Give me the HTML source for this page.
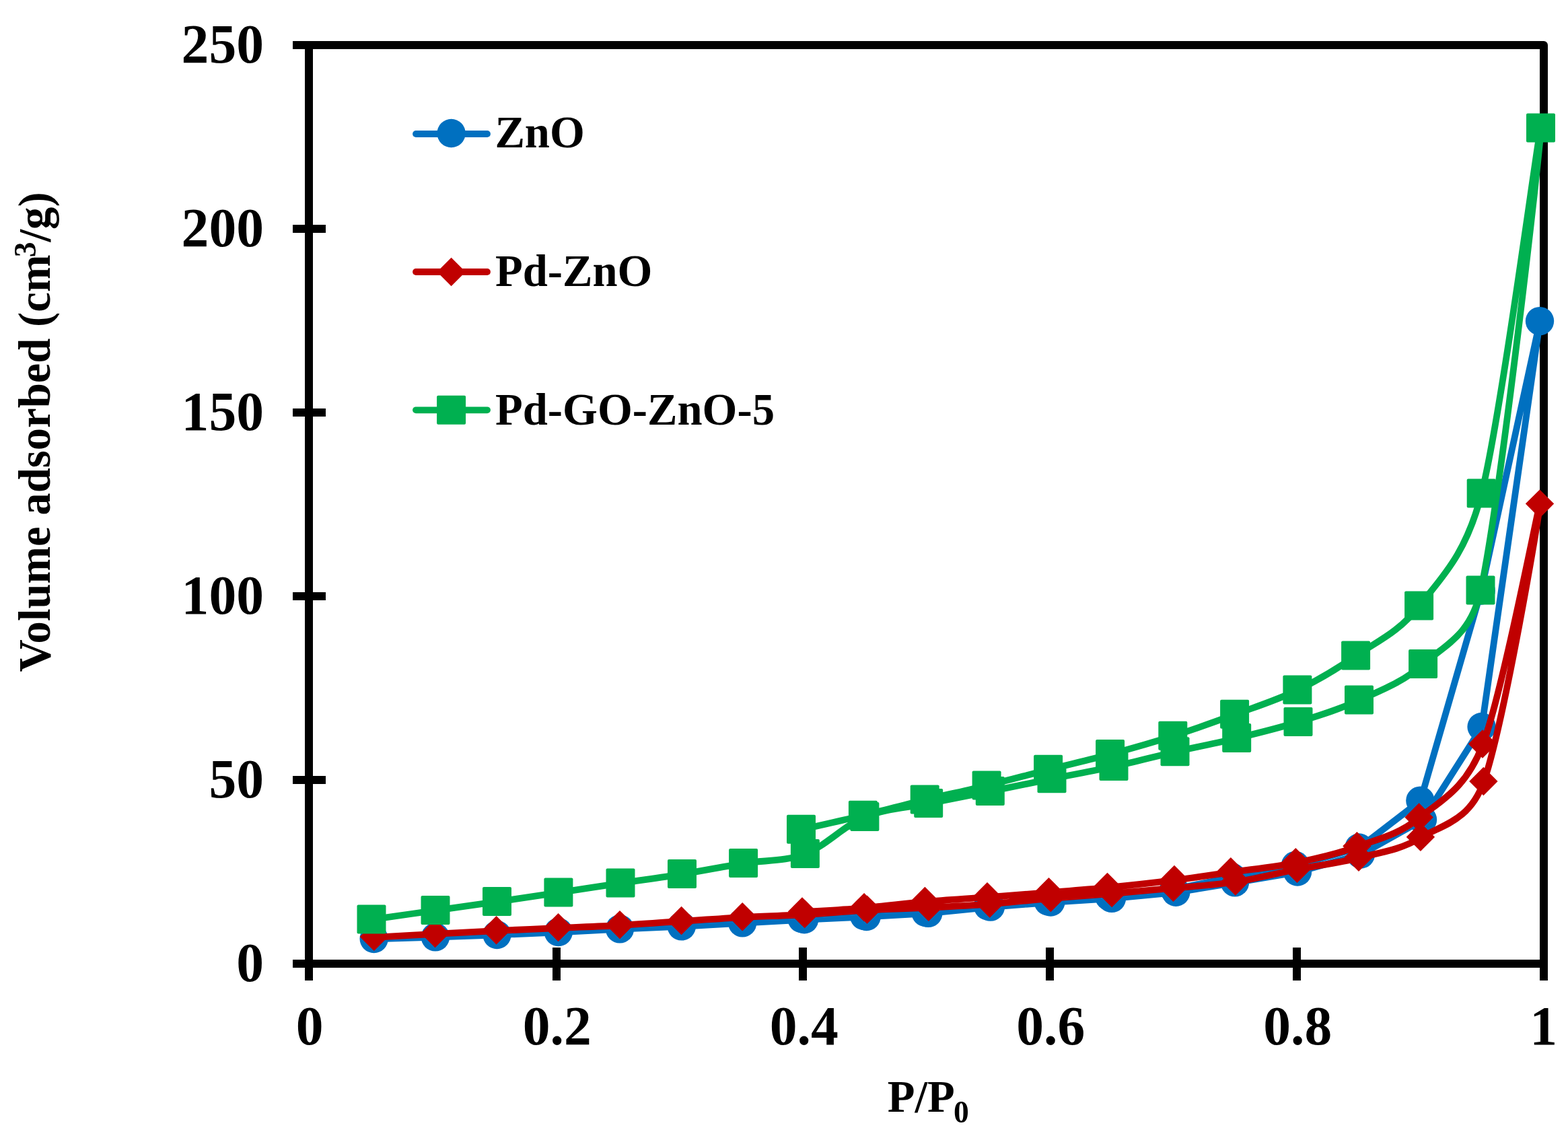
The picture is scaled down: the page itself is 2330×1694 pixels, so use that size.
<!DOCTYPE html>
<html lang="en">
<head>
<meta charset="utf-8">
<title>N2 adsorption-desorption isotherms</title>
<style>
html,body{margin:0;padding:0;background:#fff;}
body{width:2330px;height:1694px;overflow:hidden;}
svg{display:block;}
text{font-kerning:normal;white-space:pre;}
</style>
</head>
<body>
<svg width="2330" height="1694" viewBox="0 0 2330 1694" role="img" aria-label="Nitrogen adsorption-desorption isotherms of ZnO, Pd-ZnO and Pd-GO-ZnO-5" font-family='"Liberation Serif", "Times New Roman", Times, serif' font-weight="700" fill="#000">
<rect width="2330" height="1694" fill="#fff"/>
<g stroke="#000" stroke-width="12" fill="none">
<rect x="459" y="67" width="1835" height="1365" stroke-linejoin="round"/>
<path d="M459 61V1457"/>
<path d="M435 1432H2300"/>
<path d="M435 1432H484M435 1159H484M435 886H484M435 613H484M435 340H484M435 67H484M459 1408V1457M827 1408V1457M1193 1408V1457M1560 1408V1457M1927 1408V1457M2294 1408V1457"/>
</g>
<g class="ytick" font-size="81.6" text-anchor="end">
<text x="392" y="1458">0</text>
<text x="392" y="1185">50</text>
<text x="392" y="912">100</text>
<text x="392" y="639">150</text>
<text x="392" y="366">200</text>
<text x="392" y="93">250</text>
</g>
<g class="xtick" font-size="81.6" text-anchor="middle">
<text x="460.2" y="1551.8">0</text>
<text x="827.8" y="1551.8">0.2</text>
<text x="1194.8" y="1551.8">0.4</text>
<text x="1561.3" y="1551.8">0.6</text>
<text x="1928.2" y="1551.8">0.8</text>
<text x="2293.6" y="1551.8">1</text>
</g>
<text class="xtitle" x="1318.8" y="1651.9" font-size="66.7">P/P<tspan font-size="45.6" dy="15.6" dx="-1.8">0</tspan></text>
<text class="ytitle" transform="translate(73.8 998.5) rotate(-90)" font-size="66.7">Volume adsorbed (cm<tspan font-size="45.6" dy="-21" dx="-3.7">3</tspan><tspan dy="21">/g)</tspan></text>
<g class="series" fill="#0070C0" stroke="none">
<path d="M556 1395.3L647.2 1392.7L738.8 1389.3L830.1 1385.3L921.3 1380.6L1013.1 1376.7L1103.5 1371.6L1195.5 1366.5L1288 1362.3L1379.6 1357.2L1472.2 1347.9L1561.6 1340.8L1652.3 1335.2L1747.6 1326L1835.3 1311.6L1928.3 1295.8L2022.3 1269.8L2114.3 1218.3L2201.9 1080.3L2288.3 477.4L2201 877.8L2110.7 1190L2019.8 1259.8L1925.2 1286.2L1830.8 1303.6L1744.7 1321.3L1648.6 1332.6L1557.8 1339.7L1468.3 1346.8L1375.8 1356.2L1284.3 1361.3L1191.8 1365.5" fill="none" stroke="#0070C0" stroke-width="9.8" stroke-linecap="round" stroke-linejoin="round"/>
<circle cx="555.7" cy="1395" r="21.2"/>
<circle cx="646.9" cy="1392.4" r="21.2"/>
<circle cx="738.5" cy="1389" r="21.2"/>
<circle cx="829.8" cy="1385" r="21.2"/>
<circle cx="921" cy="1380.3" r="21.2"/>
<circle cx="1012.8" cy="1376.4" r="21.2"/>
<circle cx="1103.2" cy="1371.3" r="21.2"/>
<circle cx="1195.2" cy="1366.2" r="21.2"/>
<circle cx="1287.7" cy="1362" r="21.2"/>
<circle cx="1379.3" cy="1356.9" r="21.2"/>
<circle cx="1471.9" cy="1347.6" r="21.2"/>
<circle cx="1561.3" cy="1340.5" r="21.2"/>
<circle cx="1652" cy="1334.9" r="21.2"/>
<circle cx="1747.3" cy="1325.7" r="21.2"/>
<circle cx="1835" cy="1311.3" r="21.2"/>
<circle cx="1928" cy="1295.5" r="21.2"/>
<circle cx="2022" cy="1269.5" r="21.2"/>
<circle cx="2114" cy="1218" r="21.2"/>
<circle cx="2201.6" cy="1080" r="21.2"/>
<circle cx="2288" cy="477.1" r="21.2"/>
<circle cx="2200.7" cy="877.5" r="21.2"/>
<circle cx="2110.4" cy="1189.7" r="21.2"/>
<circle cx="2019.5" cy="1259.5" r="21.2"/>
<circle cx="1924.9" cy="1285.9" r="21.2"/>
<circle cx="1830.5" cy="1303.3" r="21.2"/>
<circle cx="1744.4" cy="1321" r="21.2"/>
<circle cx="1648.3" cy="1332.3" r="21.2"/>
<circle cx="1557.5" cy="1339.4" r="21.2"/>
<circle cx="1468" cy="1346.5" r="21.2"/>
<circle cx="1375.5" cy="1355.9" r="21.2"/>
<circle cx="1284" cy="1361" r="21.2"/>
<circle cx="1191.5" cy="1365.2" r="21.2"/>
</g>
<g class="series" fill="#C00000" stroke="none">
<path d="M556.1 1392.8C571.23 1391.98 616.6 1389.52 646.9 1387.9C677.2 1386.28 707.4 1384.58 737.9 1383.1C768.4 1381.62 799.33 1380.35 829.9 1379C860.47 1377.65 890.8 1376.68 921.3 1375C951.8 1373.32 982.53 1370.88 1012.9 1368.9C1043.27 1366.92 1072.98 1364.75 1103.5 1363.1C1134.02 1361.45 1165.12 1360.77 1196 1359C1226.88 1357.23 1258.1 1354.22 1288.8 1352.5C1319.5 1350.78 1349.83 1350.22 1380.2 1348.7C1410.57 1347.18 1440.77 1345.7 1471 1343.4C1501.23 1341.1 1531.35 1337.48 1561.6 1334.9C1591.85 1332.32 1622.13 1330.43 1652.5 1327.9C1682.87 1325.37 1713.2 1322.6 1743.8 1319.7C1774.4 1316.8 1805.43 1315.17 1836.1 1310.5C1866.77 1305.83 1897.27 1297.67 1927.8 1291.7C1958.33 1285.73 1988.73 1282.55 2019.3 1274.7C2049.87 1266.85 2080.3 1263.4 2111.2 1244.6C2142.1 1225.8 2183.68 1220.67 2204.7 1161.9C2234.22 1079.38 2288.53 758.75 2288.3 749.5C2288.07 740.25 2233.2 1028.75 2203.3 1106.4C2177.39 1173.68 2140 1190.12 2108.9 1215.4C2077.8 1240.68 2047.25 1246.98 2016.7 1258.1C1986.15 1269.22 1956.85 1275.77 1925.6 1282.1C1894.35 1288.43 1859.25 1291.8 1829.2 1296.1C1799.15 1300.4 1775.87 1304.1 1745.3 1307.9C1714.73 1311.7 1676.88 1315.85 1645.8 1318.9C1614.72 1321.95 1588.55 1323.82 1558.8 1326.2C1529.05 1328.58 1497.98 1330.92 1467.3 1333.2C1436.62 1335.48 1405.18 1337.25 1374.7 1339.9C1344.22 1342.55 1314.8 1346.53 1284.4 1349.1C1254 1351.67 1207.65 1354.27 1192.3 1355.3" fill="none" stroke="#C00000" stroke-width="9.8" stroke-linecap="round" stroke-linejoin="round"/>
<path d="M555.8 1370.7L577 1391.9L555.8 1413.1L534.6 1391.9Z"/>
<path d="M646.6 1365.8L667.8 1387L646.6 1408.2L625.4 1387Z"/>
<path d="M737.6 1361L758.8 1382.2L737.6 1403.4L716.4 1382.2Z"/>
<path d="M829.6 1356.9L850.8 1378.1L829.6 1399.3L808.4 1378.1Z"/>
<path d="M921 1352.9L942.2 1374.1L921 1395.3L899.8 1374.1Z"/>
<path d="M1012.6 1346.8L1033.8 1368L1012.6 1389.2L991.4 1368Z"/>
<path d="M1103.2 1341L1124.4 1362.2L1103.2 1383.4L1082 1362.2Z"/>
<path d="M1195.7 1336.9L1216.9 1358.1L1195.7 1379.3L1174.5 1358.1Z"/>
<path d="M1288.5 1330.4L1309.7 1351.6L1288.5 1372.8L1267.3 1351.6Z"/>
<path d="M1379.9 1326.6L1401.1 1347.8L1379.9 1369L1358.7 1347.8Z"/>
<path d="M1470.7 1321.3L1491.9 1342.5L1470.7 1363.7L1449.5 1342.5Z"/>
<path d="M1561.3 1312.8L1582.5 1334L1561.3 1355.2L1540.1 1334Z"/>
<path d="M1652.2 1305.8L1673.4 1327L1652.2 1348.2L1631 1327Z"/>
<path d="M1743.5 1297.6L1764.7 1318.8L1743.5 1340L1722.3 1318.8Z"/>
<path d="M1835.8 1288.4L1857 1309.6L1835.8 1330.8L1814.6 1309.6Z"/>
<path d="M1927.5 1269.6L1948.7 1290.8L1927.5 1312L1906.3 1290.8Z"/>
<path d="M2019 1252.6L2040.2 1273.8L2019 1295L1997.8 1273.8Z"/>
<path d="M2110.9 1222.5L2132.1 1243.7L2110.9 1264.9L2089.7 1243.7Z"/>
<path d="M2204.4 1139.8L2225.6 1161L2204.4 1182.2L2183.2 1161Z"/>
<path d="M2288 727.4L2309.2 748.6L2288 769.8L2266.8 748.6Z"/>
<path d="M2203 1084.3L2224.2 1105.5L2203 1126.7L2181.8 1105.5Z"/>
<path d="M2108.6 1193.3L2129.8 1214.5L2108.6 1235.7L2087.4 1214.5Z"/>
<path d="M2016.4 1236L2037.6 1257.2L2016.4 1278.4L1995.2 1257.2Z"/>
<path d="M1925.3 1260L1946.5 1281.2L1925.3 1302.4L1904.1 1281.2Z"/>
<path d="M1828.9 1274L1850.1 1295.2L1828.9 1316.4L1807.7 1295.2Z"/>
<path d="M1745 1285.8L1766.2 1307L1745 1328.2L1723.8 1307Z"/>
<path d="M1645.5 1296.8L1666.7 1318L1645.5 1339.2L1624.3 1318Z"/>
<path d="M1558.5 1304.1L1579.7 1325.3L1558.5 1346.5L1537.3 1325.3Z"/>
<path d="M1467 1311.1L1488.2 1332.3L1467 1353.5L1445.8 1332.3Z"/>
<path d="M1374.4 1317.8L1395.6 1339L1374.4 1360.2L1353.2 1339Z"/>
<path d="M1284.1 1327L1305.3 1348.2L1284.1 1369.4L1262.9 1348.2Z"/>
<path d="M1192 1333.2L1213.2 1354.4L1192 1375.6L1170.8 1354.4Z"/>
</g>
<g class="series" fill="#00B050" stroke="none">
<path d="M552.3 1366.3C568.13 1364.07 616.22 1357.3 647.3 1352.9C678.38 1348.5 708.32 1344.32 738.8 1339.9C769.28 1335.48 799.62 1330.98 830.2 1326.4C860.78 1321.82 891.7 1316.98 922.3 1312.4C952.9 1307.82 983.37 1303.82 1013.8 1298.9C1044.23 1293.98 1074.42 1287.9 1104.9 1282.9C1135.38 1277.9 1166.65 1280.4 1196.7 1268.9C1226.75 1257.4 1254.65 1226.4 1285.2 1213.9C1315.75 1201.4 1348.93 1200.23 1380 1193.9C1411.07 1187.57 1441.05 1182.03 1471.6 1175.9C1502.15 1169.77 1532.68 1163.25 1563.3 1157.1C1593.92 1150.95 1624.8 1145.65 1655.3 1139C1685.8 1132.35 1715.85 1124.2 1746.3 1117.2C1776.75 1110.2 1807.5 1104.4 1838 1097C1868.5 1089.6 1899 1082.23 1929.3 1072.8C1959.6 1063.37 1988.87 1054.73 2019.8 1040.4C2050.73 1026.07 2084.82 1013.97 2114.9 986.8C2144.98 959.63 2185.42 945.18 2200.3 877.4C2229.45 744.67 2289.6 214.38 2289.8 190.4C2290 166.42 2231.65 615.17 2201.5 733.5C2177.94 825.98 2140 860.25 2108.9 900.4C2077.8 940.55 2045.02 953.55 2014.9 974.4C1984.78 995.25 1958.2 1010.95 1928.2 1025.5C1898.2 1040.05 1865.75 1050.33 1834.9 1061.7C1804.05 1073.07 1773.93 1083.85 1743.1 1093.7C1712.27 1103.55 1680.77 1112.47 1649.9 1120.8C1619.03 1129.13 1588.48 1135.93 1557.9 1143.7C1527.32 1151.47 1496.97 1159.95 1466.4 1167.4C1435.83 1174.85 1405.12 1181.02 1374.5 1188.4C1343.88 1195.78 1313.32 1204.32 1282.7 1211.7C1252.08 1219.08 1206.12 1229.2 1190.8 1232.7" fill="none" stroke="#00B050" stroke-width="9.8" stroke-linecap="round" stroke-linejoin="round"/>
<rect x="530.5" y="1344.4" width="43" height="43" rx="2"/>
<rect x="625.5" y="1331" width="43" height="43" rx="2"/>
<rect x="717" y="1318" width="43" height="43" rx="2"/>
<rect x="808.4" y="1304.5" width="43" height="43" rx="2"/>
<rect x="900.5" y="1290.5" width="43" height="43" rx="2"/>
<rect x="992" y="1277" width="43" height="43" rx="2"/>
<rect x="1083.1" y="1261" width="43" height="43" rx="2"/>
<rect x="1174.9" y="1247" width="43" height="43" rx="2"/>
<rect x="1263.4" y="1192" width="43" height="43" rx="2"/>
<rect x="1358.2" y="1172" width="43" height="43" rx="2"/>
<rect x="1449.8" y="1154" width="43" height="43" rx="2"/>
<rect x="1541.5" y="1135.2" width="43" height="43" rx="2"/>
<rect x="1633.5" y="1117.1" width="43" height="43" rx="2"/>
<rect x="1724.5" y="1095.3" width="43" height="43" rx="2"/>
<rect x="1816.2" y="1075.1" width="43" height="43" rx="2"/>
<rect x="1907.5" y="1050.9" width="43" height="43" rx="2"/>
<rect x="1998" y="1018.5" width="43" height="43" rx="2"/>
<rect x="2093.1" y="964.9" width="43" height="43" rx="2"/>
<rect x="2178.5" y="855.5" width="43" height="43" rx="2"/>
<rect x="2268" y="168.5" width="43" height="43" rx="2"/>
<rect x="2179.7" y="711.6" width="43" height="43" rx="2"/>
<rect x="2087.1" y="878.5" width="43" height="43" rx="2"/>
<rect x="1993.1" y="952.5" width="43" height="43" rx="2"/>
<rect x="1906.4" y="1003.6" width="43" height="43" rx="2"/>
<rect x="1813.1" y="1039.8" width="43" height="43" rx="2"/>
<rect x="1721.3" y="1071.8" width="43" height="43" rx="2"/>
<rect x="1628.1" y="1098.9" width="43" height="43" rx="2"/>
<rect x="1536.1" y="1121.8" width="43" height="43" rx="2"/>
<rect x="1444.6" y="1145.5" width="43" height="43" rx="2"/>
<rect x="1352.7" y="1166.5" width="43" height="43" rx="2"/>
<rect x="1260.9" y="1189.8" width="43" height="43" rx="2"/>
<rect x="1169" y="1210.8" width="43" height="43" rx="2"/>
</g>
<g class="legend">
<g class="legend-item">
<line x1="618" y1="199" x2="724" y2="199" stroke="#0070C0" stroke-width="9.8" stroke-linecap="round"/>
<circle cx="670.6" cy="198" r="21.2" fill="#0070C0"/>
<text x="735.4" y="219" font-size="66.7">ZnO</text>
</g>
<g class="legend-item">
<line x1="618" y1="404" x2="724" y2="404" stroke="#C00000" stroke-width="9.8" stroke-linecap="round"/>
<path d="M670.6 382.8L691.8 404L670.6 425.2L649.4 404Z" fill="#C00000"/>
<text x="736" y="425" font-size="66.7">Pd-ZnO</text>
</g>
<g class="legend-item">
<line x1="618" y1="609.3" x2="724" y2="609.3" stroke="#00B050" stroke-width="9.8" stroke-linecap="round"/>
<rect x="649.1" y="587.8" width="43" height="43" rx="2" fill="#00B050"/>
<text x="736" y="630.7" font-size="66.7">Pd-GO-ZnO-5</text>
</g>
</g>
</svg>
</body>
</html>
